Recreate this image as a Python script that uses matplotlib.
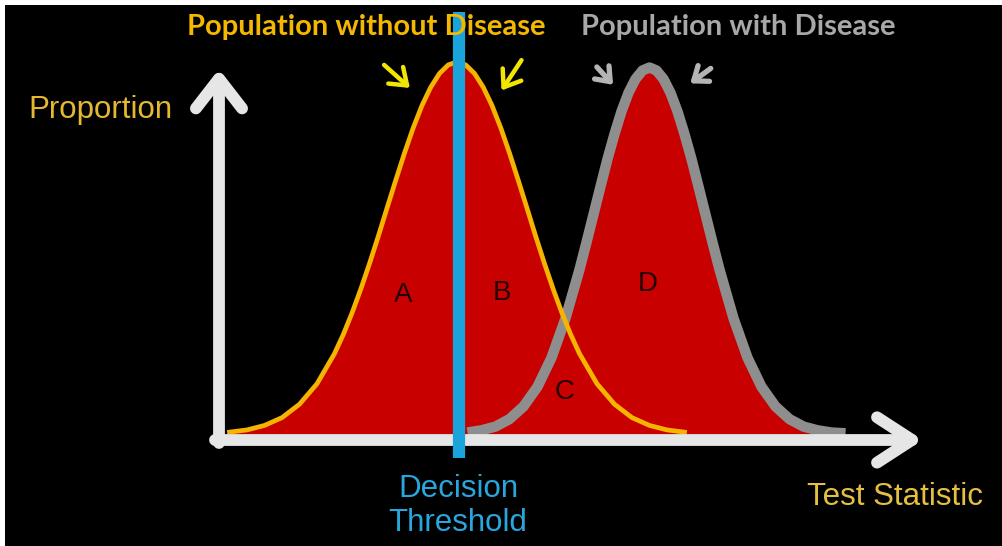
import matplotlib
matplotlib.use("Agg")
import matplotlib.pyplot as plt

# curve values (x = test statistic, y = proportion)
healthy_x = [0.15, 0.40, 0.65, 0.90, 1.15, 1.40,
             1.65, 1.775, 1.90, 2.025, 2.15, 2.275, 2.40, 2.525, 2.65, 2.775, 2.90, 3.025, 3.15, 3.275, 3.40,
             3.525, 3.65, 3.775, 3.90, 4.025, 4.15, 4.275, 4.40, 4.525, 4.65, 4.775, 4.90, 5.025, 5.15,
             5.40, 5.65, 5.90, 6.15, 6.40, 6.65]
healthy_y = [0.005, 0.011, 0.023, 0.044, 0.080, 0.135,
             0.216, 0.267, 0.325, 0.389, 0.458, 0.531, 0.607, 0.682, 0.755, 0.823, 0.883, 0.932, 0.969, 0.992, 1.0,
             0.992, 0.969, 0.932, 0.883, 0.823, 0.755, 0.682, 0.607, 0.531, 0.458, 0.389, 0.325, 0.267, 0.216,
             0.135, 0.080, 0.044, 0.023, 0.011, 0.005]

disease_x = [3.55, 3.75, 3.95, 4.15, 4.35, 4.55, 4.75, 4.95,
             5.15, 5.25, 5.35, 5.45, 5.55, 5.65, 5.75, 5.85, 5.95, 6.05, 6.15,
             6.25, 6.35, 6.45, 6.55, 6.65, 6.75, 6.85, 6.95, 7.05, 7.15,
             7.35, 7.55, 7.75, 7.95, 8.15, 8.35, 8.55, 8.75, 8.95]
disease_y = [0.004, 0.010, 0.020, 0.040, 0.074, 0.127, 0.205, 0.311,
             0.442, 0.515, 0.590, 0.665, 0.739, 0.806, 0.867, 0.917, 0.954, 0.977, 0.985,
             0.977, 0.954, 0.917, 0.867, 0.806, 0.739, 0.665, 0.590, 0.515, 0.442,
             0.311, 0.205, 0.127, 0.074, 0.040, 0.020, 0.010, 0.004, 0.002]

threshold = 3.43
area_labels = ["A", "B", "C", "D"]
area_x = [2.63, 4.04, 4.94, 6.13]
area_y = [0.374, 0.379, 0.113, 0.403]

fig = plt.figure(figsize=(10.03, 5.46), dpi=100, facecolor="white")
ax = fig.add_axes([5 / 1003, 0, 998 / 1003, 541 / 546])
ax.set_facecolor("black")
ax.set_xlim(-3.057, 11.2)
ax.set_ylim(-0.301, 1.153)
ax.set_xticks([])
ax.set_yticks([])
for s in ax.spines.values():
    s.set_visible(False)

red = "#C80000"
ax.fill_between(healthy_x, 0, healthy_y, color=red, lw=0, zorder=1)
ax.fill_between(disease_x, 0, disease_y, color=red, lw=0, zorder=1)
ax.plot(disease_x, disease_y, color="#8E8E8E", lw=7.5, solid_capstyle="butt",
        solid_joinstyle="round", zorder=3)
ax.plot(healthy_x, healthy_y, color="#F5B400", lw=3.4, solid_joinstyle="round", zorder=4)

# axes arrows
axcol = "#E6E6E6"
kw = dict(color=axcol, lw=8.5, solid_capstyle="round", solid_joinstyle="round", zorder=5)
ax.plot([0, 0], [-0.025, 0.955], **kw)
ax.plot([-0.33, 0, 0.33], [0.875, 0.955, 0.875], **kw)
ax.plot([-0.05, 9.9], [-0.016, -0.016], **kw)
ax.plot([9.4, 9.9, 9.4], [0.045, -0.016, -0.077], **kw)

# decision threshold
ax.plot([threshold, threshold], [-0.065, 1.134], color="#1BA3DC", lw=8.8,
        solid_capstyle="butt", zorder=6)

for lab, x, y in zip(area_labels, area_x, area_y):
    ax.text(x, y, lab, fontsize=20, color="#220000", ha="center", va="center",
            family="Liberation Sans", zorder=7)

# small pointer arrows
ax.annotate("", xy=(2.757, 0.925), xytext=(2.329, 0.997),
            arrowprops=dict(arrowstyle="->,head_length=0.55,head_width=0.4", lw=3.2,
                            color="#F2E600", mutation_scale=20))
ax.annotate("", xy=(4.014, 0.917), xytext=(4.343, 1.011),
            arrowprops=dict(arrowstyle="->,head_length=0.55,head_width=0.4", lw=3.2,
                            color="#F2E600", mutation_scale=20))
ax.annotate("", xy=(5.657, 0.933), xytext=(5.371, 0.992),
            arrowprops=dict(arrowstyle="->,head_length=0.45,head_width=0.35", lw=3.8,
                            color="#B4B4B4", mutation_scale=20))
ax.annotate("", xy=(6.70, 0.938), xytext=(7.057, 0.987),
            arrowprops=dict(arrowstyle="->,head_length=0.45,head_width=0.35", lw=3.8,
                            color="#B4B4B4", mutation_scale=20))

ax.text(2.1, 1.094, "Population without Disease", fontsize=21, fontweight="bold",
        color="#F5B800", ha="center", va="center", family="Lato", zorder=8)
ax.text(7.414, 1.094, "Population with Disease", fontsize=21, fontweight="bold",
        color="#A8A8A8", ha="center", va="center", family="Lato", zorder=8)
ax.text(-1.7, 0.871, "Proportion", fontsize=22.5, color="#E6B830", ha="center",
        va="center", family="Liberation Sans")
ax.text(3.414, -0.194, "Decision\nThreshold", fontsize=22.5, color="#2AA6DF",
        ha="center", va="center", family="Liberation Sans")
ax.text(9.657, -0.169, "Test Statistic", fontsize=22.5, color="#E5C040",
        ha="center", va="center", family="Liberation Sans")

fig.savefig("out.png", dpi=100, facecolor=fig.get_facecolor())
